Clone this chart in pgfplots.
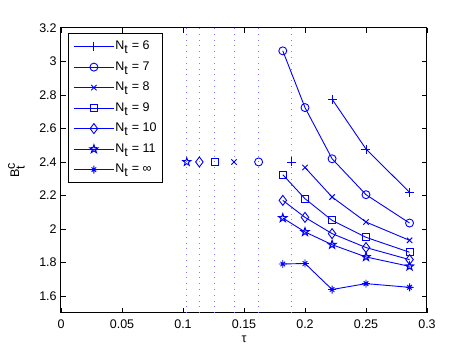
\documentclass[border=0pt]{standalone}
\usepackage{fontspec}
\setmainfont{Liberation Sans}
\usepackage{pgfplots}
\pgfplotsset{compat=1.18}
\definecolor{mblue}{RGB}{0,0,255}

% MATLAB-like pentagram and 8-spoke asterisk
\pgfdeclareplotmark{pentagram}{%
  \pgfpathmoveto{\pgfpointpolar{90}{\pgfplotmarksize}}%
  \pgfpathlineto{\pgfpointpolar{126}{0.4\pgfplotmarksize}}%
  \pgfpathlineto{\pgfpointpolar{162}{\pgfplotmarksize}}%
  \pgfpathlineto{\pgfpointpolar{198}{0.4\pgfplotmarksize}}%
  \pgfpathlineto{\pgfpointpolar{234}{\pgfplotmarksize}}%
  \pgfpathlineto{\pgfpointpolar{270}{0.4\pgfplotmarksize}}%
  \pgfpathlineto{\pgfpointpolar{306}{\pgfplotmarksize}}%
  \pgfpathlineto{\pgfpointpolar{342}{0.4\pgfplotmarksize}}%
  \pgfpathlineto{\pgfpointpolar{18}{\pgfplotmarksize}}%
  \pgfpathlineto{\pgfpointpolar{54}{0.4\pgfplotmarksize}}%
  \pgfpathclose
  \pgfusepathqstroke}
\pgfdeclareplotmark{mstar}{%
  \pgfpathmoveto{\pgfpointpolar{0}{\pgfplotmarksize}}%
  \pgfpathlineto{\pgfpointpolar{180}{\pgfplotmarksize}}%
  \pgfpathmoveto{\pgfpointpolar{90}{\pgfplotmarksize}}%
  \pgfpathlineto{\pgfpointpolar{270}{\pgfplotmarksize}}%
  \pgfpathmoveto{\pgfpointpolar{45}{0.8\pgfplotmarksize}}%
  \pgfpathlineto{\pgfpointpolar{225}{0.8\pgfplotmarksize}}%
  \pgfpathmoveto{\pgfpointpolar{135}{0.8\pgfplotmarksize}}%
  \pgfpathlineto{\pgfpointpolar{315}{0.8\pgfplotmarksize}}%
  \pgfusepathqstroke}

\pgfplotstableread{
tau B
0.2222 2.774
0.25 2.477
0.2857 2.219
}\ntsix
\pgfplotstableread{
tau B
0.1818 3.062
0.2 2.724
0.2222 2.419
0.25 2.205
0.2857 2.036
}\ntseven
\pgfplotstableread{
tau B
0.2 2.367
0.2222 2.191
0.25 2.042
0.2857 1.933
}\nteight
\pgfplotstableread{
tau B
0.1818 2.324
0.2 2.181
0.2222 2.052
0.25 1.951
0.2857 1.862
}\ntnine
\pgfplotstableread{
tau B
0.1818 2.171
0.2 2.070
0.2222 1.973
0.25 1.890
0.2857 1.818
}\ntten
\pgfplotstableread{
tau B
0.1818 2.066
0.2 1.983
0.2222 1.907
0.25 1.834
0.2857 1.778
}\nteleven
\pgfplotstableread{
tau B
0.1818 1.792
0.2 1.795
0.2222 1.640
0.25 1.675
0.2857 1.653
}\ntinf

\begin{document}
\begin{tikzpicture}
\fontsize{12.5}{15}\selectfont
\begin{axis}[
    scale only axis,
    width=366pt, height=285.3pt,
    xmin=0, xmax=0.3, ymin=1.5, ymax=3.2,
    xtick={0,0.05,...,0.3},
    ytick={1.6,1.8,...,3.2},
    xticklabels={0,0.05,0.1,0.15,0.2,0.25,0.3},
    yticklabels={1.6,1.8,2,2.2,2.4,2.6,2.8,3,3.2},
    /pgf/number format/assume math mode=true,
    tick align=inside,
    major tick length=5pt,
    axis line style={line width=1pt},
    every tick/.style={black, line width=0.6pt},
    xticklabel style={yshift=-2pt},
    xlabel={τ},
    ylabel={B$_{\textrm{t}}^{\textrm{c}}$},
    xlabel style={yshift=1pt},
    ylabel style={yshift=6pt},
    every axis plot/.append style={mblue, line width=0.9pt, mark options={solid}},
    legend cell align=left,
    legend style={at={(0.019,0.981)}, anchor=north west, draw=black,
        line width=1pt, row sep=6.5pt, inner xsep=5pt, inner ysep=6pt,
        nodes={inner sep=1pt, text height=9pt, text depth=3pt}},
    legend image code/.code={
        \draw[mark repeat=2, mark phase=2]
        plot coordinates {(0pt,0pt) (20pt,0pt) (40pt,0pt)};},
]
% critical tau lines
\addplot[forget plot, line width=0.8pt, mblue!50, dash pattern=on 0.8pt off 5pt] coordinates {(0.1031,1.5) (0.1031,3.2)};
\addplot[forget plot, line width=0.8pt, mblue!50, dash pattern=on 0.8pt off 5pt] coordinates {(0.1134,1.5) (0.1134,3.2)};
\addplot[forget plot, line width=0.8pt, mblue!50, dash pattern=on 0.8pt off 5pt] coordinates {(0.126,1.5) (0.126,3.2)};
\addplot[forget plot, line width=0.8pt, mblue!50, dash pattern=on 0.8pt off 5pt] coordinates {(0.1418,1.5) (0.1418,3.2)};
\addplot[forget plot, line width=0.8pt, mblue!50, dash pattern=on 0.8pt off 5pt] coordinates {(0.162,1.5) (0.162,3.2)};
\addplot[forget plot, line width=0.8pt, mblue!50, dash pattern=on 0.8pt off 5pt] coordinates {(0.189,1.5) (0.189,3.2)};

\addplot[mark=+, mark size=4.5pt] table {\ntsix};
\addlegendentry{N$_{\textrm{t}}$ = 6}
\addplot[mark=o, mark size=4pt] table {\ntseven};
\addlegendentry{N$_{\textrm{t}}$ = 7}
\addplot[mark=x, mark size=3.8pt] table {\nteight};
\addlegendentry{N$_{\textrm{t}}$ = 8}
\addplot[mark=square, mark size=3.5pt] table {\ntnine};
\addlegendentry{N$_{\textrm{t}}$ = 9}
\addplot[mark=diamond, mark size=5pt] table {\ntten};
\addlegendentry{N$_{\textrm{t}}$ = 10}
\addplot[mark=pentagram, mark size=4.2pt, mark options={line width=1.1pt}] table {\nteleven};
\addlegendentry{N$_{\textrm{t}}$ = 11}
\addplot[mark=mstar, mark size=4pt] table {\ntinf};
\addlegendentry{N$_{\textrm{t}}$ = ∞}

% markers at the critical tau
\addplot[forget plot, only marks, mark=+, mark size=4.5pt] coordinates {(0.189,2.4)};
\addplot[forget plot, only marks, mark=o, mark size=4pt] coordinates {(0.162,2.4)};
\addplot[forget plot, only marks, mark=x, mark size=3.8pt] coordinates {(0.1418,2.4)};
\addplot[forget plot, only marks, mark=square, mark size=3.5pt] coordinates {(0.126,2.4)};
\addplot[forget plot, only marks, mark=diamond, mark size=5pt] coordinates {(0.1134,2.4)};
\addplot[forget plot, only marks, mark=pentagram, mark size=4.2pt] coordinates {(0.1031,2.4)};
\coordinate (sw) at (rel axis cs:0,0);
\coordinate (ne) at (rel axis cs:1,1);
\end{axis}
\pgfresetboundingbox
\path ([xshift=-61pt,yshift=-40pt]sw) rectangle ([xshift=44pt,yshift=27.7pt]ne);
\end{tikzpicture}
\end{document}
